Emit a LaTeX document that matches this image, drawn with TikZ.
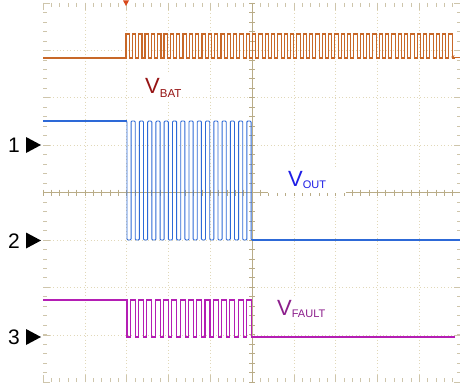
\documentclass[tikz,border=0pt]{standalone}
\usepackage{fontspec}
\setmainfont{Liberation Sans}
\usetikzlibrary{arrows.meta}
\definecolor{ctrace}{RGB}{200,104,40}
\definecolor{btrace}{RGB}{45,105,215}
\definecolor{ptrace}{RGB}{180,30,180}
\definecolor{vbatc}{RGB}{150,20,20}
\definecolor{voutc}{RGB}{30,30,230}
\definecolor{vfaultc}{RGB}{140,30,140}
\definecolor{gridc}{RGB}{225,216,185}
\definecolor{axisc}{RGB}{185,172,135}
\begin{document}
\begin{tikzpicture}[x=1pt,y=-1pt,
  gridline/.style={gridc, line width=0.6pt, dash pattern=on 0.8pt off 2.6pt},
  axisline/.style={axisc, line width=0.7pt},
  tickmark/.style={axisc, line width=0.6pt},
  edgetick/.style={axisc!70, line width=0.6pt},
  lbl/.style={font=\fontsize{22}{24}\selectfont, inner xsep=0pt, inner ysep=4pt, fill=white},
  chnum/.style={font=\fontsize{21}{23}\selectfont, inner sep=0pt},
  subs/.style={}]
\useasboundingbox (0,0) rectangle (460,385);
\fill[white] (0,0) rectangle (460,385);
% grid
\foreach \i in {1,2,3,4,6,7,8,9} \draw[gridline] ({43+\i*41.8},3) -- ({43+\i*41.8},382);
\foreach \j in {1,2,3,5,6,7} \draw[gridline] (43,{3+\j*47.4}) -- (461,{3+\j*47.4});
% edge ticks
\foreach \i in {0,...,50} {
  \draw[edgetick] ({43+\i*8.36},3) -- ++(0,4);
  \draw[edgetick] ({43+\i*8.36},382) -- ++(0,-4);
}
\foreach \i in {0,...,10} {
  \draw[edgetick] ({43+\i*41.8},3) -- ++(0,7);
  \draw[edgetick] ({43+\i*41.8},382) -- ++(0,-7);
}
\foreach \j in {0,...,40} {
  \draw[edgetick] (43,{3+\j*9.475}) -- ++(4,0);
  \draw[edgetick] (461,{3+\j*9.475}) -- ++(-4,0);
}
\foreach \j in {0,...,8} {
  \draw[edgetick] (43,{3+\j*47.4}) -- ++(7,0);
  \draw[edgetick] (461,{3+\j*47.4}) -- ++(-7,0);
}
% center axes
\draw[axisline] (43,192.6) -- (461,192.6);
\draw[axisline] (252,3) -- (252,382);
\foreach \i in {0,...,50} \draw[tickmark] ({43+\i*8.36},189.6) -- ++(0,6);
\foreach \j in {0,...,40} \draw[tickmark] (249,{3+\j*9.475}) -- ++(6,0);
% orange trace
\draw[ctrace, line width=1.1pt] (43,58) -- (126,58)
  \foreach \k in {1,...,52}{ -- ++(0,-24) -- ++(3.3,0) -- ++(0,24) -- ++(3.03,0)};
\fill[ctrace!70!red] (123,0.5) -- (129,0.5) -- (126,6) -- cycle;
\draw[ctrace, line width=0.8pt, -{Stealth[length=3.5pt,width=3.5pt]}] (461,57) -- (451,57);
% blue trace
\draw[btrace, line width=0.9pt, rounded corners=1pt] (43,121) -- (127,121) -- (127,240)
  \foreach \k in {1,...,15}{ -- ++(4.1,0) -- ++(0,-119) -- ++(4.17,0) -- ++(0,119)} -- (460,240);
\draw[btrace, line width=1.6pt] (43,121) -- (127,121);
\draw[btrace, line width=1.6pt] (252,240) -- (460,240);
% purple trace
\draw[ptrace, line width=1.1pt] (43,300) -- (127,300) -- (127,337)
  \foreach \k in {1,...,15}{ -- ++(3.3,0) -- ++(0,-37) -- ++(5,0) -- ++(0,37)} -- (455,337);
\draw[ptrace, line width=1.5pt] (43,300) -- (127,300);
\draw[ptrace, line width=1.5pt] (252,337) -- (455,337);
% labels
\node[lbl, text=vbatc, anchor=base west] (vbat) at (145,93.5)
  {V\raisebox{-4pt}{\fontsize{11.5}{12}\selectfont BAT}};
\node[lbl, text=voutc, anchor=base west, inner xsep=20pt] (vout) at (268,186.5)
  {V\raisebox{-2pt}{\fontsize{11}{12}\selectfont OUT}};
\node[lbl, text=vfaultc, anchor=base west] (vfault) at (277,315)
  {V\raisebox{-2pt}{\fontsize{11}{12}\selectfont FAULT}};
% channel markers
\node[chnum, anchor=base east] (n1) at (20,152.5) {1};
\node[chnum, anchor=base east] (n2) at (20,248) {2};
\node[chnum, anchor=base east] (n3) at (20,344.5) {3};
\fill (26,137) -- (41,145) -- (26,153) -- cycle;
\fill (26,232.5) -- (41,240.5) -- (26,248.5) -- cycle;
\fill (26,329) -- (41,337) -- (26,345) -- cycle;
\end{tikzpicture}
\end{document}
